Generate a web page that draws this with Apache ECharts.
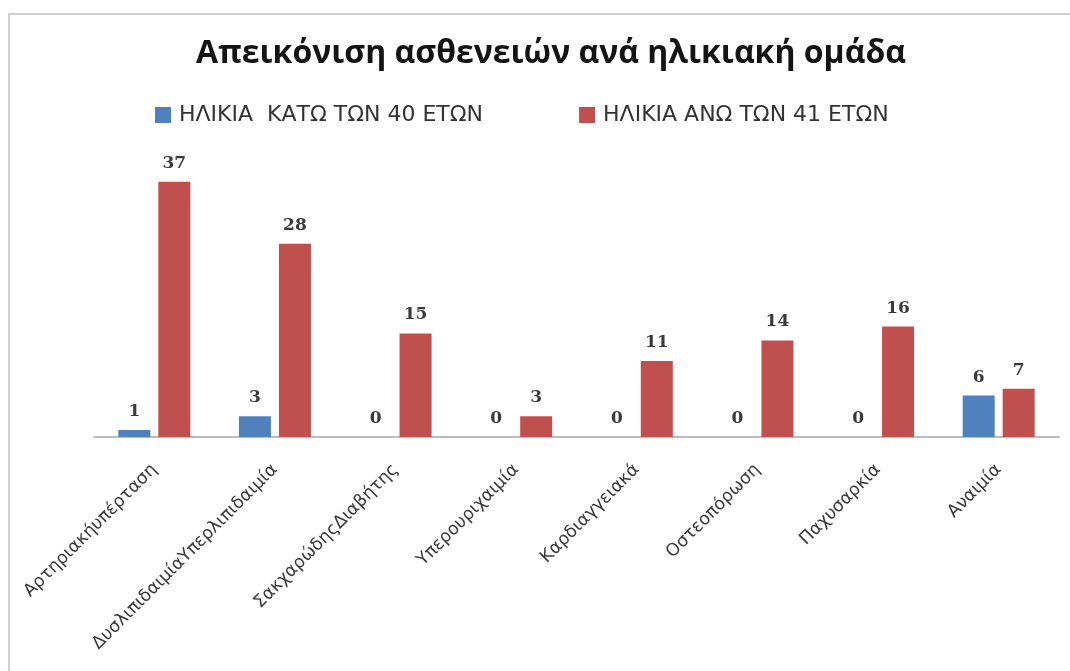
<!DOCTYPE html>
<html>
<head>
<meta charset="utf-8">
<script src="https://cdn.jsdelivr.net/npm/echarts@6/dist/echarts.min.js"></script>
<style>
  html, body { margin: 0; padding: 0; background: #ffffff; }
  #chart { width: 1070px; height: 671px; }
</style>
</head>
<body>
<div id="chart"></div>
<script>
// Conditions shown along the x axis
const categories = [
  'Αρτηριακήυπέρταση',
  'ΔυσλιπιδαιμίαΥπερλιπιδαιμία',
  'ΣακχαρώδηςΔιαβήτης',
  'Υπερουριχαιμία',
  'Καρδιαγγειακά',
  'Οστεοπόρωση',
  'Παχυσαρκία',
  'Αναιμία'
];
// Patient counts per age group
const under40 = [1, 3, 0, 0, 0, 0, 0, 6];
const over41 = [37, 28, 15, 3, 11, 14, 16, 7];
const seriesNames = ['ΗΛΙΚΙΑ  ΚΑΤΩ ΤΩΝ 40 ΕΤΩΝ', 'ΗΛΙΚΙΑ ΑΝΩ ΤΩΝ 41 ΕΤΩΝ'];
const titleText = 'Απεικόνιση ασθενειών ανά ηλικιακή ομάδα';

const chart = echarts.init(document.getElementById('chart'), null, { renderer: 'canvas' });

const labelStyle = {
  show: true,
  position: 'top',
  distance: 10,
  fontFamily: '"DejaVu Serif", "Liberation Serif", serif',
  fontWeight: 'bold',
  fontSize: 17,
  color: '#3a3a3a'
};

chart.setOption({
  backgroundColor: '#ffffff',
  animation: false,
  title: {
    text: titleText,
    left: 546,
    top: 33,
    textAlign: 'center',
    textStyle: {
      fontFamily: '"Open Sans", "Noto Sans", sans-serif',
      fontWeight: 'bold',
      fontSize: 32,
      color: '#141414'
    }
  },
  legend: {
    left: 150,
    top: 99,
    itemWidth: 16,
    itemHeight: 16,
    itemGap: 96,
    icon: 'rect',
    textStyle: {
      fontFamily: '"DejaVu Sans", sans-serif',
      fontSize: 22,
      color: '#333333',
      padding: [0, 0, 0, 3]
    },
    data: seriesNames
  },
  grid: {
    left: 94,
    right: 11,
    top: 161,
    bottom: 671 - 437
  },
  xAxis: {
    type: 'category',
    data: categories,
    axisTick: { show: false },
    axisLine: { lineStyle: { color: '#a6a6a6', width: 1.5 } },
    axisLabel: {
      rotate: 45,
      interval: 0,
      margin: 30,
      fontFamily: '"DejaVu Sans", sans-serif',
      fontSize: 17.5,
      color: '#3a3a3a'
    }
  },
  yAxis: {
    type: 'value',
    min: 0,
    max: 40,
    show: false,
    splitLine: { show: false }
  },
  series: [
    {
      name: seriesNames[0],
      type: 'bar',
      data: under40,
      barWidth: 32,
      barGap: '25%',
      itemStyle: { color: '#4f81bd' },
      label: labelStyle
    },
    {
      name: seriesNames[1],
      type: 'bar',
      data: over41,
      barWidth: 32,
      barGap: '25%',
      itemStyle: { color: '#c0504d' },
      label: labelStyle
    }
  ],
  graphic: [
    {
      type: 'rect',
      shape: { x: 9, y: 14, width: 1080, height: 700 },
      style: { fill: null, stroke: '#d0d0d0', lineWidth: 2 },
      silent: true,
      z: -1
    }
  ]
});
</script>
</body>
</html>
